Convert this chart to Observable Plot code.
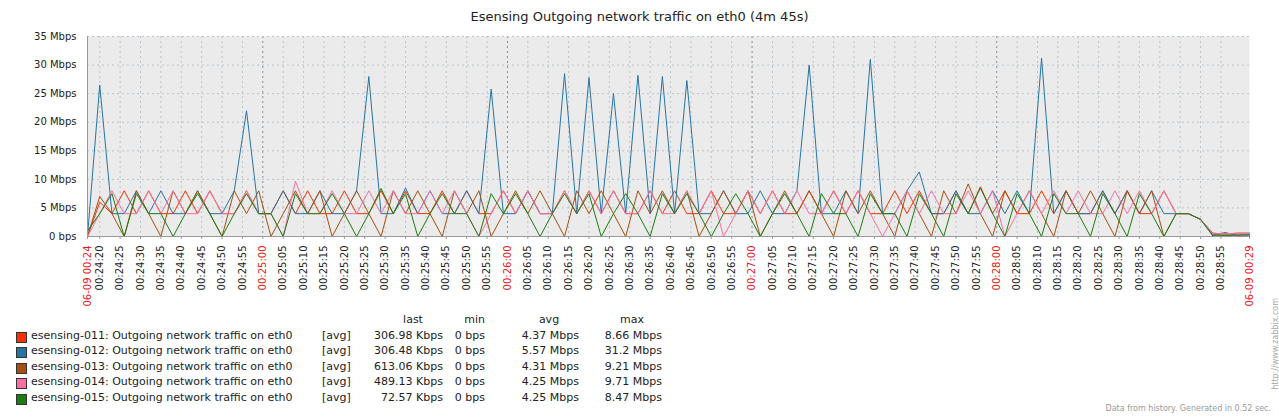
<!DOCTYPE html>
<html><head><meta charset="utf-8">
<script src="https://cdn.jsdelivr.net/npm/d3@7"></script>
<script src="https://cdn.jsdelivr.net/npm/@observablehq/plot@0.6"></script>
<style>
body{margin:0;background:#fff;font-family:"DejaVu Sans",sans-serif;width:1279px;height:418px;position:relative;overflow:hidden}
#title{position:absolute;top:9px;left:0;width:1279px;text-align:center;font-size:13px;color:#222}
#chart{position:absolute;top:30px;left:0}
.lg{position:absolute;font-size:11px;color:#222;white-space:nowrap}
.r{text-align:right}
.sw{position:absolute;width:9px;height:9px;border:1px solid #333}
</style></head><body>
<div id="title">Esensing Outgoing network traffic on eth0 (4m 45s)</div>
<div id="chart"></div>
<div id="legend"></div>
<div class="lg" style="right:8px;top:298px;font-size:8px;color:#aaa;transform:rotate(-90deg);transform-origin:right top;">http://www.zabbix.com</div>
<div class="lg" style="right:8px;top:404px;font-size:8px;color:#999">Data from history. Generated in 0.52 sec.</div>
<script>
const series = ["esensing-011", "esensing-012", "esensing-013", "esensing-014", "esensing-015"]
const colors = ["#f63100", "#2774a4", "#a54f10", "#fc6ea3", "#1a7c11"]
const lastV = ["306.98 Kbps", "306.48 Kbps", "613.06 Kbps", "489.13 Kbps", "72.57 Kbps"]
const minV = ["0 bps", "0 bps", "0 bps", "0 bps", "0 bps"]
const avgV = ["4.37 Mbps", "5.57 Mbps", "4.31 Mbps", "4.25 Mbps", "4.25 Mbps"]
const maxV = ["8.66 Mbps", "31.2 Mbps", "9.21 Mbps", "9.71 Mbps", "8.47 Mbps"]

// Mbps, one sample every 3 s from 00:24:17
const s011 = [0,6,4,8,4,8,4,4,8,4, 8,4,4,8,4,4,8,4,8,4, 4,8,4,4,8,4,8,4,4,8, 4,8,4,4,8,4,8,4,4,8,
  4,8,4,8,4,4,8,4,8,4, 4,8,4,4,8,4,8,4,4,8, 4,8,4,8,4,4,8,4,8,4, 4,8,4,8.7,4,8,4,4,8,4,
  8,4,4,8,4,8,4,4,8,4, 4,3,0.3,0.5,0.3,0.3]
const s012 = [0,26.5,4,4,8,4,8,4,4,8, 4,4,8,22,4,4,8,4,4,8, 4,4,8,28,4,4,8.5,4,8,4, 4,8,4,25.8,4,4,8,4,4,28.5,
  4,27.8,4,25,4,28.2,4,28,4,27.3, 4,4,8,4,4,8,4,4,8,30, 4,4,8,4,31,4,4,8,11.3,4, 4,8,4,4,8,4,8,4,31.2,4,
  8,4,4,8,4,8,4,8,4,4, 4,3,0.2,0.7,0.2,0.4]
const s013 = [0,7,4,0,8,4,0,8,4,8, 4,0,8,4,8,0,4,8,4,8, 0,4,8,4,0,8,4,8,4,0, 8,4,8,0,4,8,4,8,4,0,
  8,4,8,4,0,8,4,8,4,8, 0,4,8,4,8,0,4,8,4,8, 4,0,8,4,8,4,0,8,4,0, 8,4,9.2,4,0,8,4,8,4,0,
  8,4,8,4,0,8,4,8,0,4, 4,3,0.6,0.4,0.6,0.6]
const s014 = [0,4,8,4,4,8,4,8,4,4, 8,4,4,8,4,4,0,9.7,4,4, 8,4,4,8,4,8,4,4,8,4, 8,4,0,4,8,4,8,4,4,8,
  4,8,4,8,4,4,8,4,4,8, 4,8,0,4,8,4,8,4,8,4, 4,8,4,8,4,0,4,8,4,8, 4,4,8,4,8,0,4,8,4,8,
  4,8,4,4,8,4,8,4,8,4, 4,3,0.5,0.5,0.5,0.5]
const s015 = [1,4,7.5,0,7.5,4,4,0,4,7.5, 4,0,4,7.5,4,4,0,7.5,4,4, 7.5,4,0,4,8.4,4,7.5,0,4,7.5, 4,4,0,7.5,4,7.5,4,0,4,7.5,
  4,7.5,0,4,7.5,4,0,7.5,4,7.5, 4,0,4,7.5,4,0,4,7.5,4,0, 7.5,4,4,0,7.5,4,4,0,7.5,4, 0,7.5,4,8.5,4,0,7.5,4,0,7.5,
  4,4,0,7.5,4,0,7.5,4,0,4, 4,3,0.1,0.2,0.1,0.1]
const yTicks = [0, 5, 10, 15, 20, 25, 30, 35]

const t0 = new Date(2020, 5, 9, 0, 24, 17)
const t1 = new Date(2020, 5, 9, 0, 29, 2)
const allSeries = [s011, s012, s013, s014, s015]
let rows = []
allSeries.forEach((s, k) => s.forEach((v, i) => rows.push({name: series[k], t: new Date(+t0 + i * 3000), v})))

const ticks = d3.timeSecond.every(5).range(new Date(2020,5,9,0,24,20), new Date(2020,5,9,0,29,0))
const minuteTicks = ticks.filter(d => d.getSeconds() == 0)
const otherTicks = ticks.filter(d => d.getSeconds() != 0)
const fmt = d3.timeFormat("%H:%M:%S")

let chart = Plot.plot({
  width: 1279, height: 290,
  marginLeft: 87, marginRight: 30, marginTop: 6, marginBottom: 84,
  style: {fontFamily: "DejaVu Sans", fontSize: "10px", background: "transparent"},
  x: {type: "time", domain: [t0, t1]},
  y: {domain: [0, 35]},
  color: {domain: series, range: colors},
  marks: [
    Plot.frame({fill: "#ebebeb", stroke: null}),
    Plot.ruleX(otherTicks, {stroke: "#b8c4cc", strokeDasharray: "2,3"}),
    Plot.ruleX(minuteTicks, {stroke: "#7f8f9c", strokeDasharray: "2,3"}),
    Plot.ruleY(yTicks.slice(1), {stroke: "#b8c4cc", strokeDasharray: "2,3"}),
    Plot.axisY({ticks: yTicks, tickSize: 0, tickPadding: 11, tickFormat: d => d == 0 ? "0 bps" : d + " Mbps", label: null, fill: "#222"}),
    Plot.axisX(otherTicks, {tickSize: 3, tickRotate: -90, tickFormat: fmt, label: null, fill: "#222", stroke: "#999"}),
    Plot.axisX(minuteTicks, {tickSize: 3, tickRotate: -90, tickFormat: fmt, label: null, fill: "#e02020", stroke: "#999"}),
    Plot.axisX([t0, t1], {tickSize: 3, tickRotate: -90, tickFormat: d3.timeFormat("%m-%d %H:%M"), label: null, fill: "#e02020", stroke: "#999"}),
    Plot.line(rows, {x: "t", y: "v", z: "name", stroke: "name", strokeWidth: 1}),
    Plot.ruleX([t0], {stroke: "#999"}),
    Plot.ruleY([0], {stroke: "#999"})
  ]
})
d3.select('#chart').append(() => chart)

// legend
const lg = d3.select('#legend')
const top0 = 313, step = 15.6
;[["last", 443], ["min", 485], ["avg", 579], ["max", 662]].forEach(([h, r], j) => {
  lg.append('div').attr('class', 'lg').style('top', top0 + 'px').style('left', (r - 60) + 'px')
    .style('width', '60px').style('text-align', j == 1 ? 'right' : 'center').text(h)
})
series.forEach((s, k) => {
  const y = top0 + step * (k + 1)
  lg.append('div').attr('class', 'sw').style('left', '16px').style('top', (y + 3) + 'px').style('background', colors[k])
  lg.append('div').attr('class', 'lg').style('left', '31px').style('top', y + 'px').text(s + ": Outgoing network traffic on eth0")
  lg.append('div').attr('class', 'lg').style('left', '322px').style('top', y + 'px').text("[avg]")
  ;[[lastV, 443], [minV, 485], [avgV, 579], [maxV, 662]].forEach(([arr, r]) => {
    lg.append('div').attr('class', 'lg r').style('left', (r - 100) + 'px').style('width', '100px').style('top', y + 'px').text(arr[k])
  })
})
</script></body></html>
